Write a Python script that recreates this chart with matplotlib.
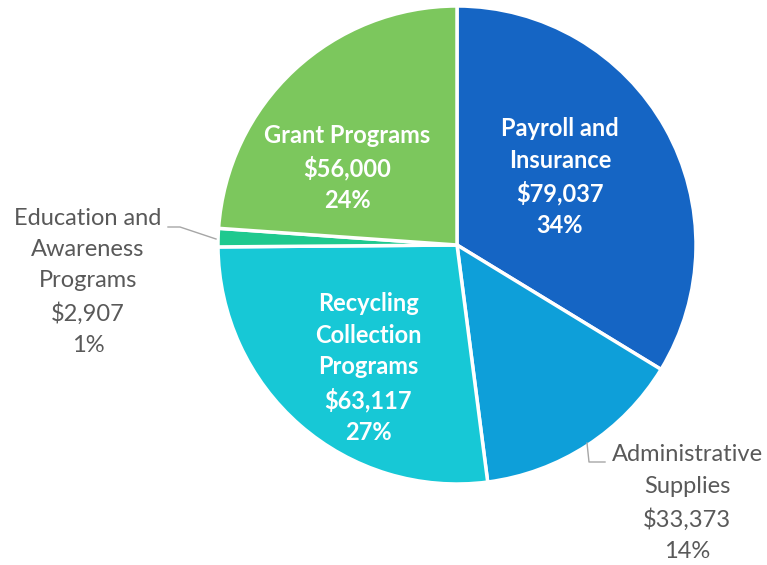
import matplotlib
matplotlib.use("Agg")
import matplotlib.pyplot as plt

# data, clockwise from 12 o'clock
names  = ["Payroll and\nInsurance", "Administrative\nSupplies", "Recycling\nCollection\nPrograms",
          "Education and\nAwareness\nPrograms", "Grant Programs"]
values = [79037, 33373, 63117, 2907, 56000]
colors = ["#1565c4", "#0e9fd9", "#17c8d6", "#1fc98f", "#7cc75d"]

W, H = 767, 565
plt.rcParams["font.family"] = ["Lato", "DejaVu Sans"]
fig = plt.figure(figsize=(W / 100, H / 100), dpi=100)
ax = fig.add_axes([0, 0, 1, 1])

CX, CY, R = 457, H - 245, 239
ax.pie(values, colors=colors, startangle=90, counterclock=False, center=(CX, CY), radius=R,
       wedgeprops=dict(edgecolor="white", linewidth=2.5))
ax.set_xlim(0, W); ax.set_ylim(0, H); ax.set_aspect("equal"); ax.axis("off")

total = sum(values)
labels = [f"{n}\n${v:,}\n{round(100 * v / total)}%" for n, v in zip(names, values)]

# label centres (pixel coords from top-left), inside = white bold, outside = grey
pos    = [(560, 177), (687, 503), (368, 368), (88, 282), (347, 168)]
inside = [True, False, True, False, True]
for lab, (x, y), ins in zip(labels, pos, inside):
    ax.text(x, H - y, lab, ha="center", va="center", multialignment="center",
            linespacing=1.45 if ins else 1.6, fontsize=17,
            fontweight="bold" if ins else "normal", color="white" if ins else "#595959")

# leader lines
ax.plot([168, 180, 216], [H - 227, H - 227, H - 239], color="#a6a6a6", lw=1)
ax.plot([587, 589, 605], [H - 443, H - 462, H - 462], color="#a6a6a6", lw=1)

fig.savefig("out.png", dpi=100)
